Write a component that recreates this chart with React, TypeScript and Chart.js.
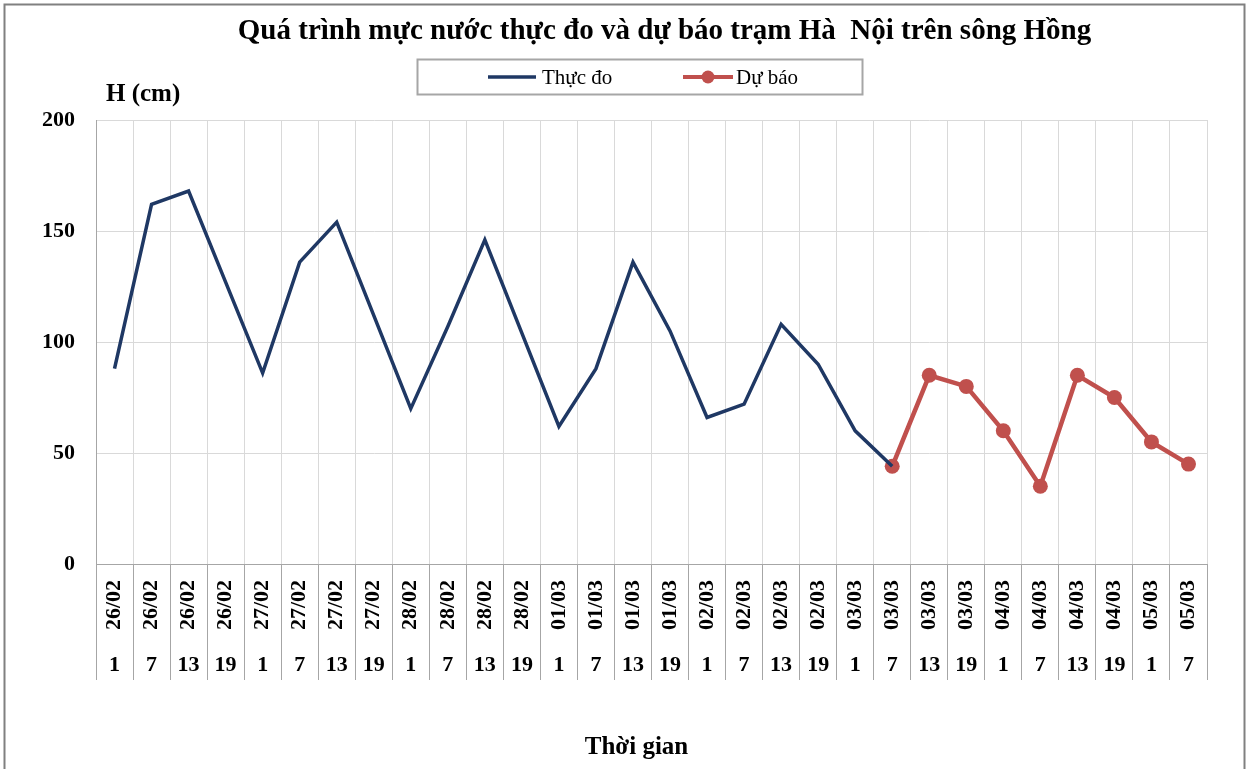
import React, { useEffect, useRef } from 'react';
import { Chart, registerables } from 'chart.js';

Chart.register(...registerables);

const FONT = '"Liberation Serif", "Times New Roman", serif';

const chartTitle = 'Quá trình mực nước thực đo và dự báo trạm Hà  Nội trên sông Hồng';
const yAxisTitle = 'H (cm)';
const xAxisTitle = 'Thời gian';

const dateLabels = [
  '26/02', '26/02', '26/02', '26/02',
  '27/02', '27/02', '27/02', '27/02',
  '28/02', '28/02', '28/02', '28/02',
  '01/03', '01/03', '01/03', '01/03',
  '02/03', '02/03', '02/03', '02/03',
  '03/03', '03/03', '03/03', '03/03',
  '04/03', '04/03', '04/03', '04/03',
  '05/03', '05/03',
];

const hourLabels = [
  '1', '7', '13', '19',
  '1', '7', '13', '19',
  '1', '7', '13', '19',
  '1', '7', '13', '19',
  '1', '7', '13', '19',
  '1', '7', '13', '19',
  '1', '7', '13', '19',
  '1', '7',
];

const observedLevels = [
  88, 162, 168, 127,
  86, 136, 154, 112,
  70, 107, 146, 104,
  62, 88, 136, 105,
  66, 72, 108, 90,
  60, 44, null, null,
  null, null, null, null,
  null, null,
];

const forecastLevels = [
  null, null, null, null,
  null, null, null, null,
  null, null, null, null,
  null, null, null, null,
  null, null, null, null,
  null, 44, 85, 80,
  60, 35, 85, 75,
  55, 45,
];

const seriesNames = ['Thực đo', 'Dự báo'];
const seriesColors = ['#1F3864', '#C0504D'];

const yMin = 0;
const yMax = 200;
const yStep = 50;

const decorPlugin = {
  id: 'decor',
  afterLayout(chart: any) {
    const tb = chart.titleBlock;
    if (tb) {
      tb.left += 61;
      tb.right += 61;
    }
    const x2 = chart.scales.x2;
    if (x2) {
      x2.left -= 15;
      x2.right -= 15;
    }
  },
  beforeDraw(chart: any) {
    const { ctx, width, height } = chart;
    ctx.save();
    ctx.fillStyle = '#ffffff';
    ctx.fillRect(0, 0, width, height);
    ctx.restore();
  },
  afterDraw(chart: any) {
    const { ctx } = chart;
    ctx.save();
    // outer frame
    ctx.strokeStyle = '#808080';
    ctx.lineWidth = 2;
    ctx.strokeRect(4.5, 4.5, 1240, 820);

    // legend frame
    ctx.strokeStyle = '#a6a6a6';
    ctx.lineWidth = 2;
    ctx.strokeRect(417.5, 59.5, 445, 35);

    const ds = chart.data.datasets;
    // series 1 sample
    ctx.strokeStyle = ds[0].borderColor;
    ctx.lineWidth = ds[0].borderWidth;
    ctx.beginPath();
    ctx.moveTo(488, 77);
    ctx.lineTo(536, 77);
    ctx.stroke();
    ctx.fillStyle = '#000000';
    ctx.font = `21px ${FONT}`;
    ctx.textBaseline = 'middle';
    ctx.textAlign = 'left';
    ctx.fillText(ds[0].label, 542, 78);

    // series 2 sample
    ctx.strokeStyle = ds[1].borderColor;
    ctx.lineWidth = 4;
    ctx.beginPath();
    ctx.moveTo(683, 77);
    ctx.lineTo(733, 77);
    ctx.stroke();
    ctx.fillStyle = ds[1].pointBackgroundColor;
    ctx.beginPath();
    ctx.arc(708, 77, 6.5, 0, Math.PI * 2);
    ctx.fill();
    ctx.fillStyle = '#000000';
    ctx.fillText(ds[1].label, 736, 78);

    // y axis title
    ctx.font = `bold 25px ${FONT}`;
    ctx.textBaseline = 'alphabetic';
    ctx.fillText(yAxisTitle, 106, 101);
    ctx.restore();
  },
};

export default function App() {
  const canvasRef = useRef<HTMLCanvasElement | null>(null);

  useEffect(() => {
    document.body.style.margin = '0';
    document.body.style.overflow = 'hidden';
    const canvas = canvasRef.current;
    if (!canvas) return;

    const chart = new Chart(canvas, {
      type: 'line',
      data: {
        labels: dateLabels.map((d, i) => `${d} ${hourLabels[i]}`),
        datasets: [
          {
            label: seriesNames[0],
            data: observedLevels,
            borderColor: seriesColors[0],
            backgroundColor: seriesColors[0],
            borderWidth: 3.5,
            pointRadius: 0,
            pointHoverRadius: 0,
            tension: 0,
            spanGaps: false,
            xAxisID: 'x',
          },
          {
            label: seriesNames[1],
            data: forecastLevels,
            borderColor: seriesColors[1],
            backgroundColor: seriesColors[1],
            pointBackgroundColor: seriesColors[1],
            pointBorderColor: seriesColors[1],
            borderWidth: 4.5,
            pointRadius: 7.5,
            pointBorderWidth: 0,
            tension: 0,
            spanGaps: false,
            xAxisID: 'x',
          },
        ],
      },
      options: {
        responsive: false,
        animation: false,
        devicePixelRatio: 1,
        layout: { padding: { left: 0, right: 46, top: 0, bottom: 0 } },
        plugins: {
          legend: { display: false },
          tooltip: { enabled: false },
          title: {
            display: true,
            text: chartTitle,
            color: '#000000',
            font: { family: FONT, size: 29, weight: 'bold', lineHeight: 1.2 },
            padding: { top: 14, bottom: 71.2 },
          },
        },
        scales: {
          x: {
            type: 'category',
            labels: dateLabels,
            position: 'bottom',
            weight: 0,
            offset: true,
            afterFit: (s: any) => { s.height = 80; },
            grid: {
              display: true,
              offset: true,
              color: '#d9d9d9',
              lineWidth: 1,
              drawTicks: true,
              tickLength: 116,
              tickColor: '#a6a6a6',
              tickWidth: 1,
            },
            border: { display: true, color: '#a6a6a6', width: 1 },
            ticks: {
              autoSkip: false,
              minRotation: 90,
              maxRotation: 90,
              padding: -100,
              color: '#000000',
              font: { family: FONT, size: 22, weight: 'bold' },
            },
          },
          x2: {
            type: 'category',
            labels: hourLabels,
            position: 'bottom',
            weight: 1,
            offset: true,
            afterFit: (s: any) => { s.height = 125; },
            grid: { display: false, drawTicks: false },
            border: { display: false },
            ticks: {
              autoSkip: false,
              maxRotation: 0,
              minRotation: 0,
              padding: 8,
              color: '#000000',
              font: { family: FONT, size: 22, weight: 'bold' },
            },
            title: {
              display: true,
              text: xAxisTitle,
              color: '#000000',
              font: { family: FONT, size: 25, weight: 'bold', lineHeight: 1.2 },
              padding: { top: 0, bottom: 6 },
            },
          },
          y: {
            type: 'linear',
            min: yMin,
            max: yMax,
            afterFit: (s: any) => { s.width = 96; },
            grid: { color: '#d9d9d9', lineWidth: 1, drawTicks: false },
            border: { display: true, color: '#a6a6a6', width: 1 },
            ticks: {
              stepSize: yStep,
              padding: 21,
              color: '#000000',
              font: { family: FONT, size: 22, weight: 'bold' },
            },
          },
        },
      },
      plugins: [decorPlugin],
    } as any);

    return () => {
      chart.destroy();
    };
  }, []);

  return (
    <div style={{ width: 1253, height: 769, overflow: 'hidden' }}>
      <canvas ref={canvasRef} width={1253} height={769} style={{ display: 'block' }} />
    </div>
  );
}
